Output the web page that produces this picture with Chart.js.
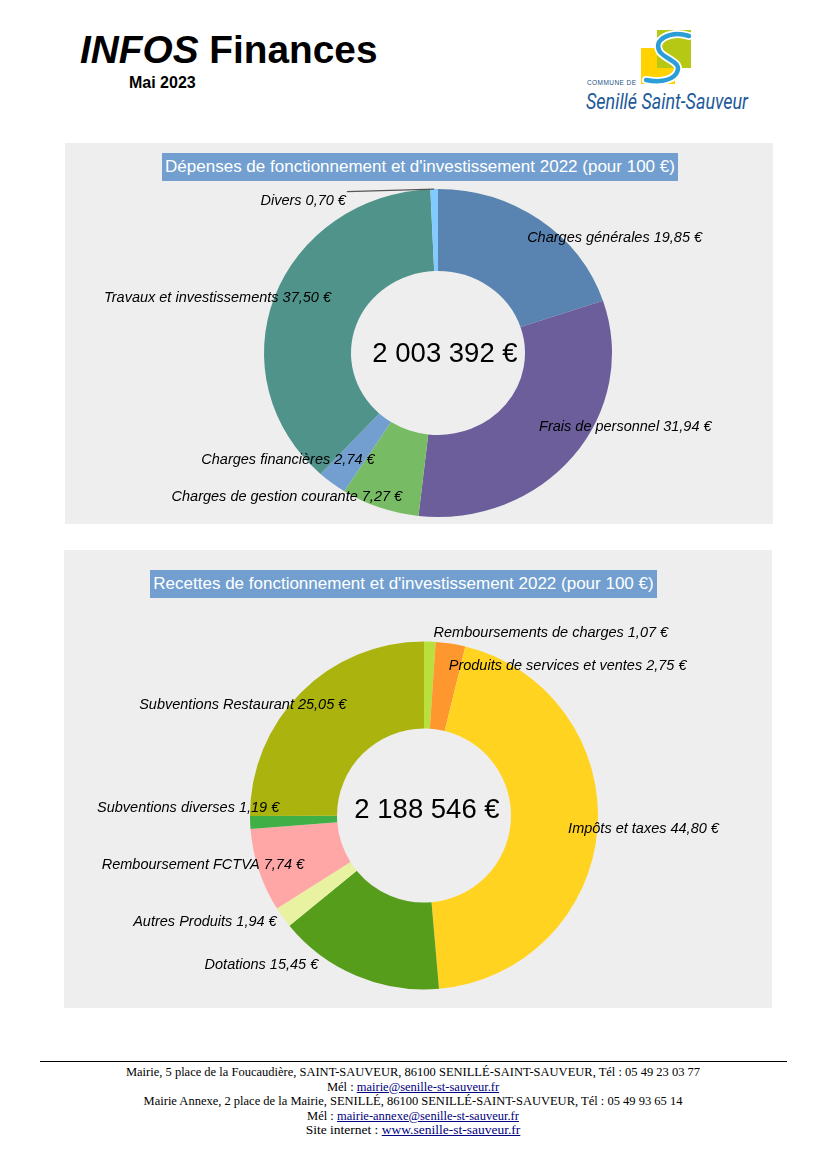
<!DOCTYPE html>
<html lang="fr">
<head>
<meta charset="utf-8">
<title>INFOS Finances - Mai 2023</title>
<script src="https://cdn.jsdelivr.net/npm/chart.js@4/dist/chart.umd.min.js"></script>
<style>
  html, body { margin: 0; padding: 0; background: #fff; }
  body { width: 826px; height: 1169px; position: relative; font-family: "Liberation Sans", Arial, sans-serif; }
  #titre { position: absolute; left: 80px; top: 28px; font-size: 38.8px; font-weight: bold; color: #000; white-space: nowrap; }
  #mois { position: absolute; left: 129px; top: 74px; font-size: 16px; font-weight: bold; }
  #logo { position: absolute; left: 580px; top: 25px; }
  .panneau { position: absolute; background: #eeeeee; }
  .panneau canvas { position: absolute; left: 0; top: 0; }
  .titre-graphe { position: absolute; background: #729fcf; color: #fff; font-size: 17px; height: 28px; line-height: 28px; text-align: center; white-space: nowrap; }
  #trait { position: absolute; left: 40px; top: 1061px; width: 747px; height: 0; border-top: 1px solid #000; }
  #pied { position: absolute; left: 0; top: 1065px; width: 826px; text-align: center; font-family: "Liberation Serif", "Times New Roman", serif; font-size: 12.5px; line-height: 14.6px; color: #000; }
  #pied a { color: #000080; }
  #pied .site { font-size: 13.5px; }
</style>
</head>
<body>

<div id="titre"><i>INFOS</i> Finances</div>
<div id="mois">Mai 2023</div>

<svg id="logo" width="180" height="95" viewBox="580 25 180 95">
  <rect x="641" y="48" width="34" height="36" fill="#ffd200"/>
  <rect x="657" y="30" width="34" height="38" fill="#b6c814"/>
  <path d="M 689 36 C 670 30, 652 40, 660 52 C 666 60, 684 62, 676 74 C 670 82, 656 82, 646 80" fill="none" stroke="#fff" stroke-width="8" stroke-linecap="round"/>
  <path d="M 689 36 C 670 30, 652 40, 660 52 C 666 60, 684 62, 676 74 C 670 82, 656 82, 646 80" fill="none" stroke="#2b9ed8" stroke-width="4.5" stroke-linecap="round"/>
  <text x="587" y="85" font-family="Liberation Sans" font-size="6.5" fill="#1d4f86" textLength="49" lengthAdjust="spacing">COMMUNE DE</text>
  <text x="586" y="109" font-family="Roboto" font-size="22" font-style="italic" fill="#1d5a9a" textLength="162" lengthAdjust="spacingAndGlyphs">Senillé Saint-Sauveur</text>
</svg>

<div class="panneau" style="left:65px; top:143px; width:708px; height:381px;">
  <canvas id="depenses" width="708" height="381"></canvas>
</div>
<div class="titre-graphe" style="left:162px; top:153px; width:516px;">Dépenses de fonctionnement et d'investissement 2022 (pour 100 €)</div>

<div class="panneau" style="left:64px; top:550px; width:708px; height:458px;">
  <canvas id="recettes" width="708" height="458"></canvas>
</div>
<div class="titre-graphe" style="left:150px; top:570px; width:507px;">Recettes de fonctionnement et d'investissement 2022 (pour 100 €)</div>

<div id="trait"></div>
<div id="pied">
  Mairie, 5 place de la Foucaudière, SAINT-SAUVEUR, 86100 SENILLÉ-SAINT-SAUVEUR, Tél : 05 49 23 03 77<br>
  Mél : <a href="mailto:mairie@senille-st-sauveur.fr">mairie@senille-st-sauveur.fr</a><br>
  Mairie Annexe, 2 place de la Mairie, SENILLÉ, 86100 SENILLÉ-SAINT-SAUVEUR, Tél : 05 49 93 65 14<br>
  Mél : <a href="mailto:mairie-annexe@senille-st-sauveur.fr">mairie-annexe@senille-st-sauveur.fr</a><br>
  <span class="site">Site internet : <a href="http://www.senille-st-sauveur.fr">www.senille-st-sauveur.fr</a></span>
</div>

<script>
// Données des dépenses (pour 100 €)
var depensesLabels = ['Charges générales', 'Frais de personnel', 'Charges de gestion courante', 'Charges financières', 'Travaux et investissements', 'Divers'];
var depensesValeurs = [19.85, 31.94, 7.27, 2.74, 37.50, 0.70];
var depensesTotal = '2 003 392 €';

// Données des recettes (pour 100 €)
var recettesLabels = ['Remboursements de charges', 'Produits de services et ventes', 'Impôts et taxes', 'Dotations', 'Autres Produits', 'Remboursement FCTVA', 'Subventions diverses', 'Subventions Restaurant'];
var recettesValeurs = [1.07, 2.75, 44.80, 15.45, 1.94, 7.74, 1.19, 25.05];
var recettesTotal = '2 188 546 €';

// Couleurs des parts
var depensesCouleurs = ['#5983b0', '#6b5e9b', '#77bc65', '#729fcf', '#50938a', '#83caff'];
var recettesCouleurs = ['#b9e03c', '#ff972f', '#ffd320', '#579d1c', '#e8f2a1', '#ffa6a6', '#3faf46', '#abb30e'];

// Décalage des étiquettes par rapport au milieu du bord extérieur de chaque part
var depensesDecalages = [[75, 18.5], [52, -29.5], [-93, -10.5], [-44, -23.5], [-57, 1.5], [-131, 11.5]];
var recettesDecalages = [[121, -8.5], [117, 22.5], [46, 0.5], [-95, -10.5], [-78, 4.5], [-56, -5.5], [-62, -14.5], [-58, 12.5]];

// Format français : 19,85 €
function formatEuro(v) {
  return v.toFixed(2).replace('.', ',') + ' €';
}

// Plugin : aplatit l'anneau, écrit les étiquettes et le total au centre
var etiquettesPlugin = {
  id: 'etiquettes',
  beforeDatasetsDraw: function (chart, args, o) {
    var arc = chart.getDatasetMeta(0).data[0];
    var ctx = chart.ctx;
    ctx.save();
    ctx.translate(arc.x, arc.y);
    ctx.scale(1, o.ecrasement);
    ctx.translate(-arc.x, -arc.y);
  },
  afterDatasetsDraw: function (chart) {
    chart.ctx.restore();
  },
  afterDraw: function (chart, args, o) {
    var ctx = chart.ctx;
    var meta = chart.getDatasetMeta(0);
    var valeurs = chart.data.datasets[0].data;
    ctx.save();
    ctx.textAlign = 'center';
    ctx.textBaseline = 'middle';

    meta.data.forEach(function (arc, i) {
      var milieu = (arc.startAngle + arc.endAngle) / 2;
      var px = arc.x + Math.cos(milieu) * arc.outerRadius;
      var py = arc.y + Math.sin(milieu) * arc.outerRadius * o.ecrasement;
      var d = o.decalages[i];
      var texte = chart.data.labels[i] + ' ' + formatEuro(valeurs[i]);
      var tx = px + d[0];
      var ty = py + d[1];

      ctx.font = 'italic 14.5px "Liberation Sans"';
      ctx.fillStyle = '#000';
      ctx.fillText(texte, tx, ty);

      // trait de rappel pour la petite part "Divers"
      if (o.trait === i) {
        var larg = ctx.measureText(texte).width;
        ctx.beginPath();
        ctx.strokeStyle = '#555';
        ctx.lineWidth = 1.2;
        ctx.moveTo(tx + larg / 2 + 1, ty - 9);
        ctx.lineTo(px, py);
        ctx.stroke();
      }
    });

    // total au centre
    var a0 = meta.data[0];
    ctx.font = '27.5px "Liberation Sans"';
    ctx.fillStyle = '#000';
    ctx.fillText(o.total, a0.x + o.centre[0], a0.y + o.centre[1]);
    ctx.restore();
  }
};

function creerAnneau(id, labels, valeurs, couleurs, rayon, padding, options) {
  var ctx = document.getElementById(id).getContext('2d');
  return new Chart(ctx, {
    type: 'doughnut',
    data: {
      labels: labels,
      datasets: [{
        data: valeurs,
        backgroundColor: couleurs,
        borderWidth: 0,
        radius: rayon,
        cutout: '50%'
      }]
    },
    options: {
      responsive: false,
      maintainAspectRatio: false,
      animation: false,
      layout: { padding: padding },
      plugins: {
        legend: { display: false },
        tooltip: { enabled: false },
        title: { display: false },
        etiquettes: options
      }
    },
    plugins: [etiquettesPlugin]
  });
}

document.addEventListener('DOMContentLoaded', function () {
  creerAnneau('depenses', depensesLabels, depensesValeurs, depensesCouleurs, 174,
    { left: 38, top: 39, right: 0, bottom: 0 },
    { ecrasement: 0.9425, decalages: depensesDecalages, trait: 5, total: depensesTotal, centre: [7, 1] });

  creerAnneau('recettes', recettesLabels, recettesValeurs, recettesCouleurs, 174,
    { left: 12, top: 73, right: 0, bottom: 0 },
    { ecrasement: 1, decalages: recettesDecalages, trait: -1, total: recettesTotal, centre: [3, -5] });
});
</script>
</body>
</html>
